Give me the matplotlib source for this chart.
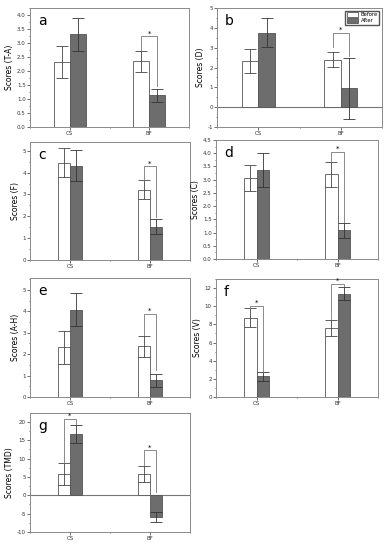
import numpy as np
import matplotlib.pyplot as plt
from matplotlib.ticker import MultipleLocator, FormatStrFormatter

groups = ['CS', 'BF']

# panel letters and y labels
letters = ['a', 'b', 'c', 'd', 'e', 'f', 'g']
ylabels = ['Scores (T-A)', 'Scores (D)', 'Scores (F)', 'Scores (C)',
           'Scores (A-H)', 'Scores (V)', 'Scores (TMD)']

# means and error bars (CS, BF)
before = [[2.32, 2.35], [2.32, 2.39], [4.45, 3.22], [3.06, 3.20],
          [2.31, 2.36], [8.73, 7.63], [5.78, 5.87]]
before_err = [[0.56, 0.37], [0.60, 0.38], [0.66, 0.43], [0.48, 0.47],
              [0.78, 0.48], [1.03, 0.90], [2.90, 2.20]]
after = [[3.31, 1.13], [3.76, 0.95], [4.32, 1.53], [3.37, 1.08],
         [4.08, 0.77], [2.28, 11.38], [16.6, -5.96]]
after_err = [[0.60, 0.23], [0.74, 1.55], [0.70, 0.36], [0.64, 0.27],
             [0.75, 0.29], [0.50, 0.73], [2.50, 1.45]]

# significance brackets: (group, top, left leg end, right leg end)
brackets = [[(1, 3.24, 2.74, 1.48)],
            [(1, 3.73, 3.05, 2.59)],
            [(1, 4.29, 3.68, 1.96)],
            [(1, 4.05, 3.72, 1.39)],
            [(1, 3.89, 2.89, 1.25)],
            [(0, 10.0, 9.8, 2.8), (1, 12.5, 8.6, 12.2)],
            [(0, 20.7, 8.8, 19.4), (1, 12.2, 8.2, 1.0)]]

ylims = [(0, 4.25), (-1, 5), (0, 5.4), (0, 4.5), (0, 5.55), (0, 13), (-10, 22.4)]
ysteps = [0.5, 1, 1, 0.5, 1, 2, 5]
yfmt = ['%.1f', '%d', '%d', '%.1f', '%d', '%d', '%d']
widths = [0.2, 0.2, 0.15, 0.155, 0.15, 0.155, 0.15]

# axes boxes in pixels (x0, x1, y0, y1) from top-left
boxes = [(30, 189, 8, 127), (217, 382, 8, 127),
         (30, 190, 142, 260), (216, 378, 140, 259),
         (30, 190, 278, 397), (216, 378, 279, 397),
         (30, 190, 413, 532)]

W, H = 390, 550
fig = plt.figure(figsize=(3.9, 5.5), dpi=100)

dark = '#6d6d6d'
edge = '#555555'
frame = '#8a8a8a'

for i in range(7):
    x0, x1, y0, y1 = boxes[i]
    ax = fig.add_axes([x0 / W, 1 - y1 / H, (x1 - x0) / W, (y1 - y0) / H])
    x = np.arange(1, 3)
    w = widths[i]
    ax.bar(x - w / 2, before[i], w, color='white', edgecolor=edge, linewidth=0.6,
           yerr=before_err[i], error_kw=dict(ecolor='#444444', elinewidth=0.6, capsize=4, capthick=0.6),
           label='Before', zorder=2)
    ax.bar(x + w / 2, after[i], w, color=dark, edgecolor=edge, linewidth=0.6,
           yerr=after_err[i], error_kw=dict(ecolor='#333333', elinewidth=0.6, capsize=4, capthick=0.6),
           label='After', zorder=2)
    if ylims[i][0] < 0:
        ax.axhline(0, color='#777777', lw=0.8, zorder=1)
    for g, top, l_end, r_end in brackets[i]:
        xl, xr = x[g] - w / 2, x[g] + w / 2
        ax.plot([xl, xl, xr, xr], [l_end, top, top, r_end], color='#777777', lw=0.6, zorder=3)
        ax.text((xl + xr) / 2, top, '*', ha='center', va='bottom', fontsize=5)
    ax.set_xlim(0.5, 2.5)
    ax.set_ylim(*ylims[i])
    ax.set_xticks(x)
    ax.set_xticklabels(groups)
    ax.xaxis.set_minor_locator(MultipleLocator(0.5))
    ax.yaxis.set_major_locator(MultipleLocator(ysteps[i]))
    ax.yaxis.set_minor_locator(MultipleLocator(ysteps[i] / 2))
    ax.yaxis.set_major_formatter(FormatStrFormatter(yfmt[i]))
    ax.tick_params(labelsize=4, length=2, width=0.5, pad=1, colors='#333333')
    ax.tick_params(which='minor', length=1, width=0.4)
    for s in ax.spines.values():
        s.set_color(frame)
        s.set_linewidth(0.7)
    ax.set_ylabel(ylabels[i], fontsize=5.5, labelpad=2)
    ax.text(0.05, 0.95, letters[i], transform=ax.transAxes, fontsize=10,
            ha='left', va='top')
    if i == 1:
        ax.legend(loc='upper right', fontsize=3.8, handlelength=2.2, handleheight=1.0,
                  borderpad=0.3, labelspacing=0.1, handletextpad=0.4,
                  fancybox=False, edgecolor='#555555', framealpha=1)

fig.savefig('out.png', dpi=100)
